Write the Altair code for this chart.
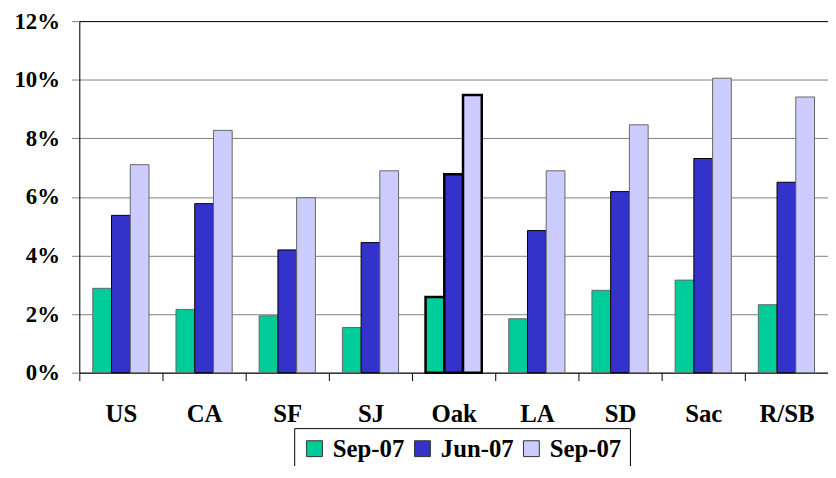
import altair as alt
import pandas as pd

categories = ["US", "CA", "SF", "SJ", "Oak", "LA", "SD", "Sac", "R/SB"]
series_keys = ["s1", "s2", "s3"]
series_labels = ["Sep-07", "Jun-07", "Sep-07"]
sep07_a = [2.88, 2.16, 1.94, 1.54, 2.58, 1.84, 2.81, 3.16, 2.32]
jun07 = [5.37, 5.77, 4.19, 4.44, 6.77, 4.85, 6.18, 7.31, 6.50]
sep07_b = [7.10, 8.27, 5.97, 6.89, 9.48, 6.89, 8.46, 10.05, 9.41]
colors = ["#00CC99", "#3333CC", "#CCCCFF"]
y_ticks = [0, 0.02, 0.04, 0.06, 0.08, 0.10, 0.12]

rows = []
for key, vals in zip(series_keys, [sep07_a, jun07, sep07_b]):
    for c, v in zip(categories, vals):
        rows.append({"cat": c, "series": key, "value": v / 100.0})
df = pd.DataFrame(rows)

label_expr = "'" + series_labels[-1] + "'"
for k, l in reversed(list(zip(series_keys[:-1], series_labels[:-1]))):
    label_expr = f"datum.value == '{k}' ? '{l}' : ({label_expr})"

FONT = "Liberation Serif"
top_val = y_ticks[-1]

chart = alt.Chart(df).mark_bar().encode(
    x=alt.X(
        "cat:N",
        sort=categories,
        scale=alt.Scale(paddingInner=0, paddingOuter=0),
        axis=alt.Axis(
            title=None, labelAngle=0, tickBand="extent", tickSize=8,
            labelPadding=21, labelFontSize=25, labelFont=FONT,
            labelFontWeight="bold", labelColor="#000000",
            domainColor="#000000", tickColor="#000000", grid=False,
        ),
    ),
    xOffset=alt.XOffset(
        "series:N", sort=series_keys,
        scale=alt.Scale(domain=series_keys, paddingInner=0, paddingOuter=0.72),
    ),
    y=alt.Y(
        "value:Q",
        scale=alt.Scale(domain=[0, top_val], nice=False),
        axis=alt.Axis(
            title=None, values=y_ticks, format=".0%", tickSize=8,
            labelPadding=12, labelFontSize=23, labelFont=FONT,
            labelFontWeight="bold", labelColor="#000000",
            domainColor="#000000", tickColor="#808080",
            grid=True,
            gridColor={"condition": {"test": f"datum.value >= {top_val - 0.001}", "value": "#000000"},
                       "value": "#808080"},
            gridWidth=1,
        ),
    ),
    fill=alt.Fill(
        "series:N",
        scale=alt.Scale(domain=series_keys, range=colors),
        legend=alt.Legend(
            title=None, orient="none", legendX=217, legendY=411,
            direction="horizontal", labelExpr=label_expr,
            symbolType="square", symbolSize=256, symbolStrokeColor="#333333",
            symbolStrokeWidth=1, labelFont=FONT, labelFontSize=25,
            labelFontWeight="bold", labelColor="#000000", labelOffset=6,
            columnPadding=5, padding=8, strokeColor="#000000",
            fillColor="#ffffff",
        ),
    ),
    stroke=alt.condition(
        "datum.cat == 'Oak' || datum.series == 's2'",
        alt.value("#000000"), alt.value("#666666"),
    ),
    strokeWidth=alt.condition("datum.cat == 'Oak'", alt.value(2.5), alt.value(1)),
).properties(
    width=756,
    height=355,
    autosize="none",
    padding={"left": 72, "top": 11, "right": 0, "bottom": 92},
).configure_view(
    strokeWidth=0
).configure(background="#ffffff")

chart.save("out.html", embed_options={"renderer": "svg", "actions": False})
